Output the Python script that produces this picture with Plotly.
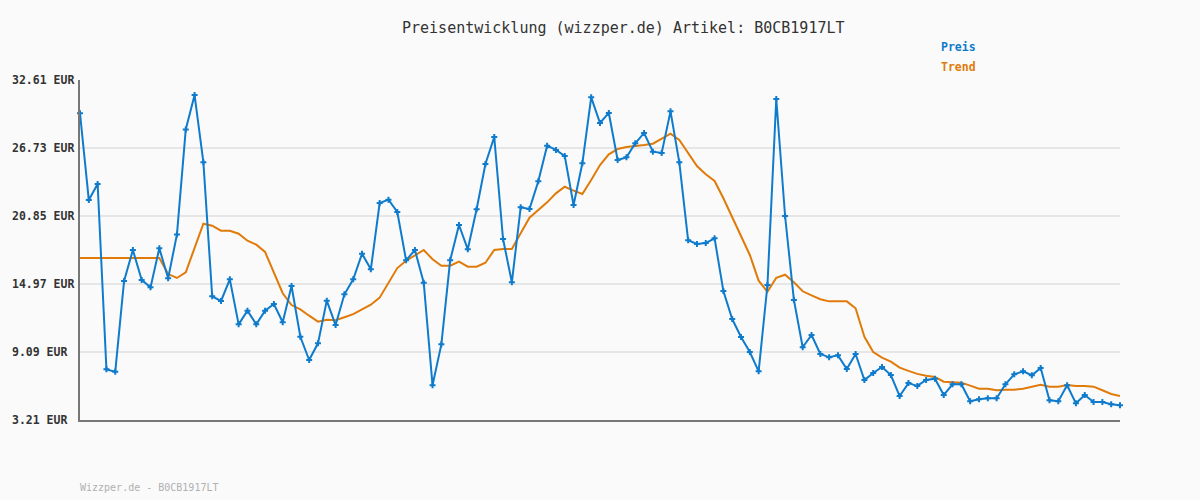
import plotly.graph_objects as go

title_text = "Preisentwicklung (wizzper.de) Artikel: B0CB1917LT"
footer_text = "Wizzper.de - B0CB1917LT"
series_names = ["Preis", "Trend"]
tick_values = [3.21, 9.09, 14.97, 20.85, 26.73, 32.61]
tick_labels = ["3.21 EUR", "9.09 EUR", "14.97 EUR", "20.85 EUR", "26.73 EUR", "32.61 EUR"]

preis = [29.73, 22.23, 23.62, 7.59, 7.39, 15.23, 17.91, 15.32, 14.68, 18.06,
         15.46, 19.26, 28.34, 31.31, 25.49, 13.90, 13.50, 15.37, 11.48, 12.66,
         11.48, 12.66, 13.24, 11.66, 14.80, 10.41, 8.40, 9.84, 13.53, 11.42,
         14.08, 15.37, 17.59, 16.24, 21.97, 22.26, 21.20, 17.02, 17.91, 15.08,
         6.21, 9.75, 17.02, 20.07, 17.97, 21.43, 25.35, 27.68, 18.86, 15.12,
         21.60, 21.45, 23.85, 26.93, 26.56, 26.04, 21.80, 25.41, 31.11, 28.89,
         29.76, 25.69, 25.92, 27.14, 28.03, 26.41, 26.30, 29.90, 25.49, 18.75,
         18.43, 18.51, 18.92, 14.36, 11.94, 10.39, 9.09, 7.42, 14.88, 30.97,
         20.85, 13.59, 9.50, 10.56, 8.92, 8.63, 8.80, 7.62, 8.92, 6.67,
         7.27, 7.80, 7.10, 5.28, 6.40, 6.16, 6.67, 6.78, 5.37, 6.30,
         6.30, 4.83, 5.00, 5.09, 5.09, 6.30, 7.16, 7.42, 7.08, 7.71,
         4.91, 4.83, 6.21, 4.65, 5.37, 4.77, 4.77, 4.57, 4.48]

trend = [17.22, 17.22, 17.22, 17.22, 17.22, 17.22, 17.22, 17.22, 17.22, 17.22,
         15.83, 15.49, 15.98, 18.08, 20.18, 20.01, 19.58, 19.58, 19.32, 18.71,
         18.37, 17.74, 16.03, 14.17, 13.15, 12.78, 12.23, 11.71, 11.88, 11.83,
         12.09, 12.36, 12.78, 13.18, 13.79, 15.03, 16.35, 16.98, 17.48, 17.91,
         17.11, 16.55, 16.55, 16.90, 16.47, 16.47, 16.81, 17.91, 17.99, 17.99,
         19.35, 20.70, 21.37, 22.03, 22.81, 23.38, 23.04, 22.75, 23.96, 25.26,
         26.18, 26.64, 26.82, 26.88, 26.99, 27.10, 27.53, 27.97, 27.42, 26.32,
         25.17, 24.46, 23.88, 22.38, 20.79, 19.18, 17.48, 15.26, 14.30, 15.51,
         15.77, 15.12, 14.34, 13.99, 13.65, 13.47, 13.47, 13.47, 12.87, 10.41,
         9.09, 8.60, 8.25, 7.74, 7.46, 7.20, 7.04, 6.93, 6.52, 6.50,
         6.44, 6.18, 5.92, 5.92, 5.78, 5.83, 5.83, 5.92, 6.06, 6.26,
         6.09, 6.09, 6.24, 6.15, 6.15, 6.09, 5.78, 5.46, 5.29]

x = list(range(len(preis)))

BLUE = "#0f7bcc"
ORANGE = "#e07b0a"
MONO = "DejaVu Sans Mono"

fig = go.Figure()
fig.add_trace(go.Scatter(x=x, y=trend, mode="lines", name=series_names[1],
                         line=dict(color=ORANGE, width=2), cliponaxis=False,
                         hoverinfo="skip"))
fig.add_trace(go.Scatter(x=x, y=preis, mode="lines+markers", name=series_names[0],
                         line=dict(color=BLUE, width=2),
                         marker=dict(symbol="cross", size=5, color=BLUE, line=dict(width=0)),
                         cliponaxis=False))

annotations = []
for v, lab in zip(tick_values, tick_labels):
    annotations.append(dict(x=-70 / 1040, xref="paper", xanchor="left", y=v, yref="y",
                            yanchor="middle", text="<b>" + lab + "</b>", showarrow=False,
                            font=dict(family=MONO, size=11.5, color="#333333")))
annotations.append(dict(x=(623 - 80) / 1040, xref="paper", xanchor="center",
                        y=1 + (80 - 28) / 340, yref="paper", yanchor="middle",
                        text=title_text, showarrow=False,
                        font=dict(family=MONO, size=15, color="#333333")))
annotations.append(dict(x=(939 - 80) / 1040, xref="paper", xanchor="left",
                        y=1 + (80 - 47) / 340, yref="paper", yanchor="middle",
                        text="<b>" + series_names[0] + "</b>", showarrow=False,
                        font=dict(family=MONO, size=11.5, color=BLUE)))
annotations.append(dict(x=(939 - 80) / 1040, xref="paper", xanchor="left",
                        y=1 + (80 - 67) / 340, yref="paper", yanchor="middle",
                        text="<b>" + series_names[1] + "</b>", showarrow=False,
                        font=dict(family=MONO, size=11.5, color=ORANGE)))
annotations.append(dict(x=-2 / 1040, xref="paper", xanchor="left",
                        y=(420 - 487) / 340, yref="paper", yanchor="middle",
                        text=footer_text, showarrow=False,
                        font=dict(family=MONO, size=10, color="#b0b0b0")))

fig.update_layout(
    width=1200, height=500,
    margin=dict(l=80, r=80, t=80, b=80),
    paper_bgcolor="#fafafa", plot_bgcolor="#fafafa",
    showlegend=False,
    annotations=annotations,
    xaxis=dict(range=[0, len(preis) - 1], showgrid=False, zeroline=False,
               showticklabels=False, ticks="", showline=True,
               linecolor="#777777", linewidth=2),
    yaxis=dict(range=[tick_values[0], tick_values[-1]], tickmode="array",
               tickvals=tick_values, showticklabels=False, ticks="",
               showgrid=True, gridcolor="#e6e6e6", gridwidth=2, zeroline=False,
               showline=True, linecolor="#777777", linewidth=2),
)

fig.write_html(
    "out.html",
    config={"displayModeBar": False},
    post_script="document.body.style.margin='0';document.body.style.overflow='hidden';"
                "document.body.style.background='#fafafa';",
)
